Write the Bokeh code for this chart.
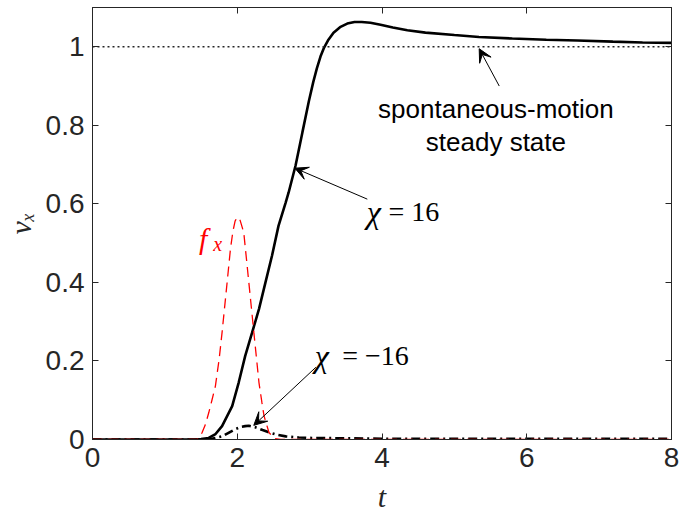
import numpy as np
from bokeh.plotting import figure
from bokeh.models import (ColumnDataSource, LinearAxis, FixedTicker, Label, Arrow,
                          VeeHead, Span, Range1d)
from bokeh.embed import file_html
from bokeh.resources import INLINE

# ---------------- data ----------------
t_pos = [0, 1.4, 1.5, 1.606, 1.70, 1.79, 1.93, 2.02, 2.11, 2.205, 2.30, 2.39, 2.48,
         2.57, 2.67, 2.71, 2.805, 2.90, 2.99, 3.05, 3.10, 3.15, 3.20, 3.26, 3.33,
         3.42, 3.52, 3.62, 3.72, 3.84, 3.98, 4.15, 4.35, 4.6, 5.0, 5.34, 5.8, 6.27,
         6.7, 7.19, 7.6, 8.0]
v_pos = [0, 0, 0.001, 0.004, 0.014, 0.034, 0.085, 0.145, 0.213, 0.272, 0.332, 0.40,
         0.468, 0.544, 0.604, 0.629, 0.697, 0.782, 0.862, 0.910, 0.945, 0.975, 0.998,
         1.018, 1.036, 1.050, 1.059, 1.063, 1.063, 1.061, 1.056, 1.049, 1.042, 1.036,
         1.030, 1.025, 1.021, 1.018, 1.016, 1.013, 1.011, 1.010]

t_neg = [0, 1.5, 1.65, 1.79, 1.88, 1.97, 2.05, 2.11, 2.16, 2.25, 2.35, 2.44, 2.55,
         2.67, 2.85, 3.03, 3.5, 4.0, 5.0, 6.0, 7.0, 8.0]
v_neg = [0, 0, 0.002, 0.008, 0.017, 0.026, 0.032, 0.034, 0.035, 0.031, 0.024, 0.018,
         0.012, 0.008, 0.005, 0.004, 0.003, 0.002, 0.002, 0.002, 0.002, 0.002]

t_force = [0, 1.45, 1.513, 1.56, 1.606, 1.65, 1.698, 1.75, 1.79, 1.86, 1.906, 1.94,
           1.97, 2.0, 2.04, 2.09, 2.16, 2.23, 2.30, 2.34, 2.37, 2.44, 2.52, 2.6, 8.0]
f_force = [0, 0, 0.017, 0.038, 0.068, 0.100, 0.136, 0.205, 0.272, 0.40, 0.485, 0.530,
           0.556, 0.566, 0.558, 0.527, 0.40, 0.272, 0.145, 0.095, 0.06, 0.017, 0.002,
           0, 0]

steady_state = 1.0

x_ticks = [0, 2, 4, 6, 8]
x_tick_labels = ["0", "2", "4", "6", "8"]
y_ticks = [0, 0.2, 0.4, 0.6, 0.8, 1.0]
y_tick_labels = ["0", "0.2", "0.4", "0.6", "0.8", "1"]

# ---------------- figure ----------------
AX = "#262626"
TICKFONT = "Liberation Sans"
SERIF = "Liberation Serif"

p = figure(width=679, height=515, output_backend="svg", toolbar_location=None,
           x_range=Range1d(0, 8), y_range=Range1d(0, 1.1),
           min_border_left=92, min_border_right=8, min_border_top=7,
           min_border_bottom=76, x_axis_location=None, y_axis_location=None)
p.background_fill_color = "white"
p.border_fill_color = "white"
p.outline_line_color = AX
p.outline_line_width = 1
p.grid.visible = False


def make_axis(ticks, labels, show_labels):
    ax = LinearAxis(ticker=FixedTicker(ticks=ticks))
    ax.major_tick_in = 6
    ax.major_tick_out = 0
    ax.minor_tick_in = 0
    ax.minor_tick_out = 0
    ax.major_tick_line_color = AX
    ax.axis_line_color = AX
    ax.major_label_text_font = TICKFONT
    ax.major_label_text_color = AX
    if show_labels:
        ax.major_label_overrides = {tk: lb for tk, lb in zip(ticks, labels)}
        ax.major_label_text_font_size = "28px"
        ax.major_label_standoff = 8
    else:
        ax.major_label_overrides = {tk: "" for tk in ticks}
        ax.major_label_text_font_size = "2px"
        ax.major_label_standoff = 0
    return ax


xb = make_axis(x_ticks, x_tick_labels, True)
xb.axis_label = "t"
xb.axis_label_text_font = SERIF
xb.axis_label_text_font_style = "italic"
xb.axis_label_text_font_size = "30px"
xb.axis_label_text_color = AX
xb.axis_label_standoff = 10
p.add_layout(xb, "below")

yl = make_axis(y_ticks, y_tick_labels, True)
yl.axis_label = "vₓ"
yl.axis_label_text_font = SERIF
yl.axis_label_text_font_style = "italic"
yl.axis_label_text_font_size = "30px"
yl.axis_label_text_color = AX
yl.axis_label_standoff = 6
p.add_layout(yl, "left")

p.add_layout(make_axis(x_ticks, x_tick_labels, False), "above")
p.add_layout(make_axis(y_ticks, y_tick_labels, False), "right")

# steady state dotted line
p.add_layout(Span(location=steady_state, dimension="width", line_color="#262626",
                  line_width=1.4, line_dash="2 3"))

src_pos = ColumnDataSource(dict(t=t_pos, v=v_pos))
src_neg = ColumnDataSource(dict(t=t_neg, v=v_neg))
src_f = ColumnDataSource(dict(t=t_force, v=f_force))

p.line("t", "v", source=src_pos, line_color="black", line_width=2.6)
p.line("t", "v", source=src_neg, line_color="black", line_width=2.6,
       line_dash="9 4 2 4")
p.line("t", "v", source=src_f, line_color="#ff0000", line_width=1.3,
       line_dash="10 6")

# ---------------- annotations ----------------
def arrow(x0, y0, x1, y1):
    p.add_layout(Arrow(end=VeeHead(size=13, fill_color="black", line_color="black"),
                       x_start=x0, y_start=y0, x_end=x1, y_end=y1,
                       line_color="black", line_width=1))

arrow(5.62, 0.900, 5.343, 0.995)
arrow(3.797, 0.612, 2.796, 0.691)
arrow(3.087, 0.184, 2.228, 0.036)

for txt, yy in (("spontaneous-motion", 0.841), ("steady state", 0.758)):
    p.add_layout(Label(x=5.574, y=yy, text=txt, text_align="center",
                       text_baseline="alphabetic", text_font=TICKFONT,
                       text_font_size="26px", text_color="black"))

# chi = 16
p.add_layout(Label(x=3.79, y=0.58, text="χ", text_font=SERIF, text_font_style="italic",
                   text_font_size="32px", text_baseline="alphabetic", text_color="black"))
p.add_layout(Label(x=4.09, y=0.58, text="= 16", text_font=SERIF,
                   text_font_size="28px", text_baseline="alphabetic", text_color="black"))
# chi = -16
p.add_layout(Label(x=3.07, y=0.213, text="χ", text_font=SERIF, text_font_style="italic",
                   text_font_size="32px", text_baseline="alphabetic", text_color="black"))
p.add_layout(Label(x=3.45, y=0.213, text="= \u221216", text_font=SERIF,
                   text_font_size="28px", text_baseline="alphabetic", text_color="black"))
# f_x
p.add_layout(Label(x=1.47, y=0.513, text="f", text_font=SERIF, text_font_style="italic",
                   text_font_size="30px", text_color="#ff0000", text_baseline="alphabetic"))
p.add_layout(Label(x=1.67, y=0.497, text="x", text_font=SERIF, text_font_style="italic",
                   text_font_size="20px", text_color="#ff0000", text_baseline="alphabetic"))

open("out.html", "w").write(file_html(p, INLINE))
